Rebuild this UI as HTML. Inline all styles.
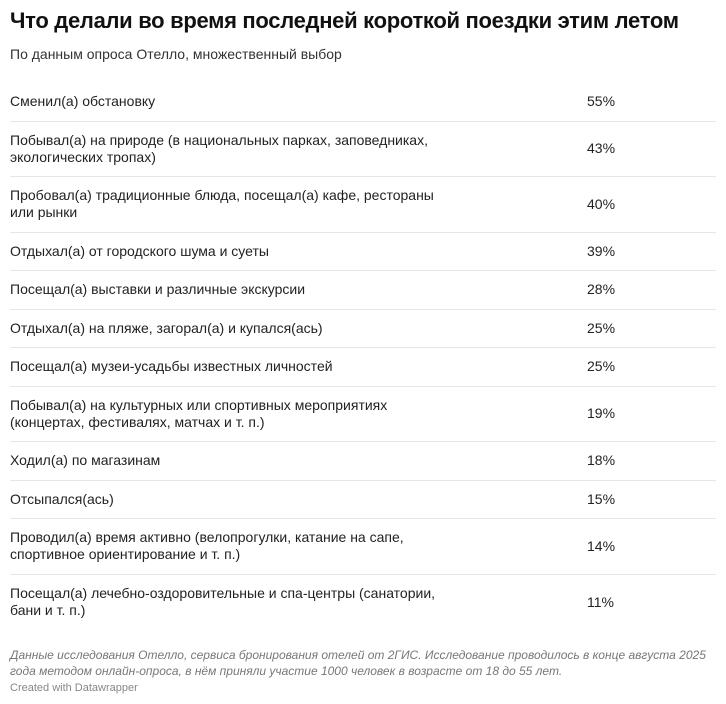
<!DOCTYPE html>
<html><head><meta charset="utf-8"><style>
body{margin:0;background:#fff;width:726px;height:704px;overflow:hidden;font-family:"Liberation Sans",sans-serif;color:#222}
h1{position:absolute;left:10px;top:8px;margin:0;font-size:22px;font-weight:bold;letter-spacing:-0.3px;color:#111;white-space:nowrap}
.sub{position:absolute;left:10px;top:46px;font-size:14px;color:#333}
.tbl{position:absolute;left:10px;top:83px;width:706px}
.row{display:flex;align-items:center;border-bottom:1px solid #e6e6e6;font-size:14px;line-height:17px;box-sizing:border-box}
.row.s{height:38.5px}.row.d{height:55.5px}
.row:last-child{border-bottom:none}
.l{width:577px}.v{width:100px}
.foot{position:absolute;left:10px;top:647px;font-size:12px;line-height:16px;font-style:italic;color:#777;width:710px}
.cr{position:absolute;left:10px;top:682px;font-size:11px;color:#888}
</style></head><body>
<h1>Что делали во время последней короткой поездки этим летом</h1>
<div class="sub">По данным опроса Отелло, множественный выбор</div>
<div class="tbl">
<div class="row s"><div class="l">Сменил(а) обстановку</div><div class="v">55%</div></div>
<div class="row d"><div class="l">Побывал(а) на природе (в национальных парках, заповедниках,<br>экологических тропах)</div><div class="v">43%</div></div>
<div class="row d"><div class="l">Пробовал(а) традиционные блюда, посещал(а) кафе, рестораны<br>или рынки</div><div class="v">40%</div></div>
<div class="row s"><div class="l">Отдыхал(а) от городского шума и суеты</div><div class="v">39%</div></div>
<div class="row s"><div class="l">Посещал(а) выставки и различные экскурсии</div><div class="v">28%</div></div>
<div class="row s"><div class="l">Отдыхал(а) на пляже, загорал(а) и купался(ась)</div><div class="v">25%</div></div>
<div class="row s"><div class="l">Посещал(а) музеи-усадьбы известных личностей</div><div class="v">25%</div></div>
<div class="row d"><div class="l">Побывал(а) на культурных или спортивных мероприятиях<br>(концертах, фестивалях, матчах и т. п.)</div><div class="v">19%</div></div>
<div class="row s"><div class="l">Ходил(а) по магазинам</div><div class="v">18%</div></div>
<div class="row s"><div class="l">Отсыпался(ась)</div><div class="v">15%</div></div>
<div class="row d"><div class="l">Проводил(а) время активно (велопрогулки, катание на сапе,<br>спортивное ориентирование и т. п.)</div><div class="v">14%</div></div>
<div class="row d"><div class="l">Посещал(а) лечебно-оздоровительные и спа-центры (санатории,<br>бани и т. п.)</div><div class="v">11%</div></div>
</div>
<div class="foot">Данные исследования Отелло, сервиса бронирования отелей от 2ГИС. Исследование проводилось в конце августа 2025 года методом онлайн-опроса, в нём приняли участие 1000 человек в возрасте от 18 до 55 лет.</div>
<div class="cr">Created with Datawrapper</div>
</body></html>
